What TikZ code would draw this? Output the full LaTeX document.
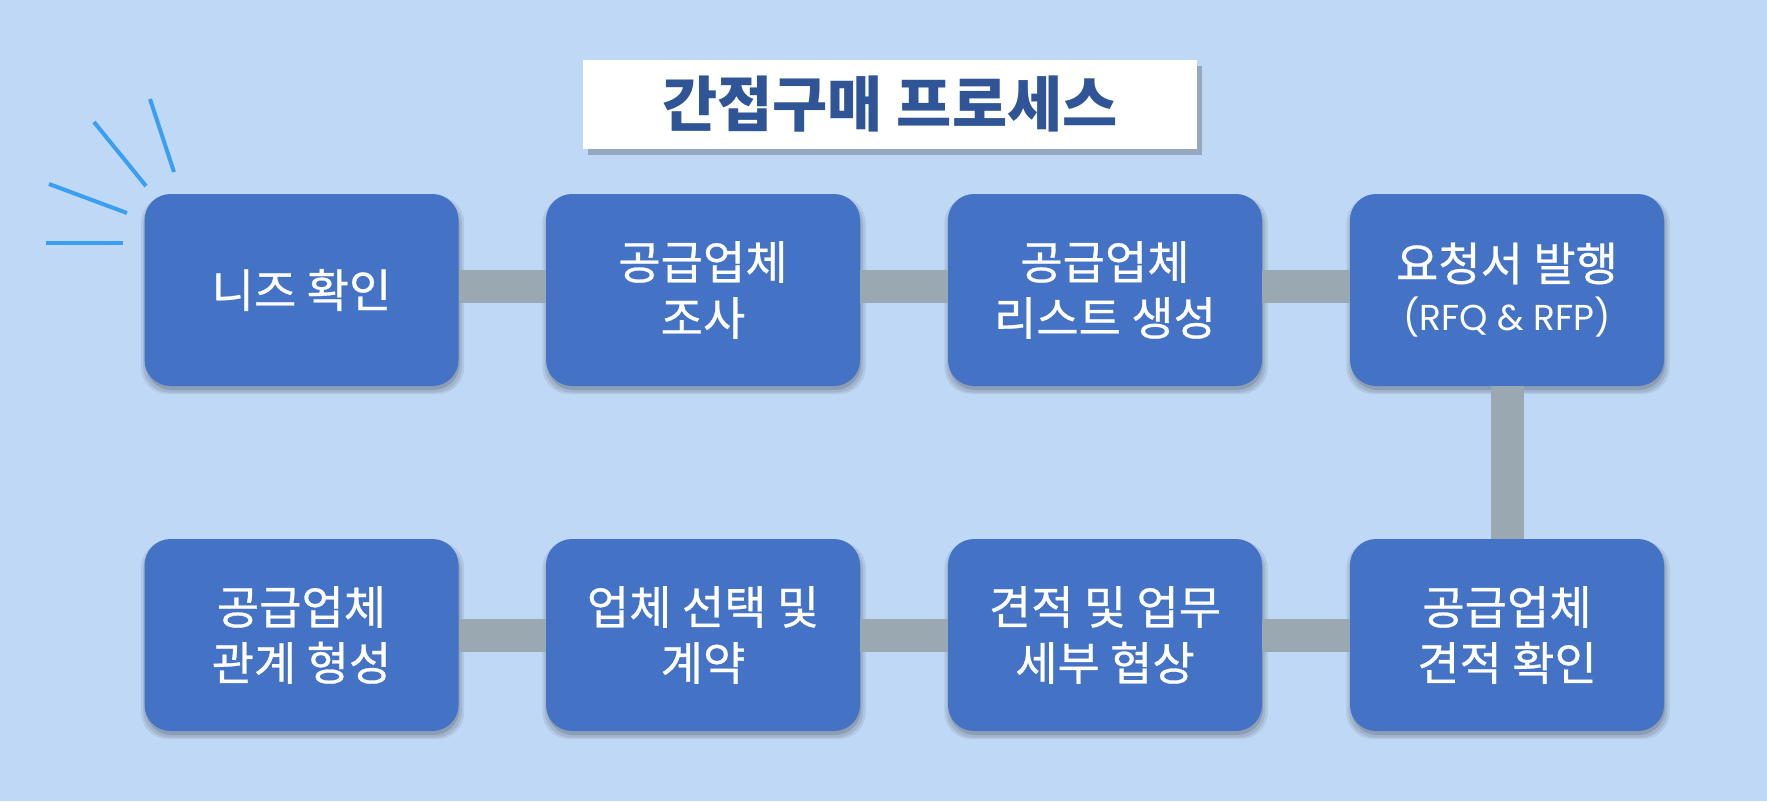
\documentclass[tikz,border=0pt]{standalone}
\usepackage{fontspec}
\newfontfamily\kr{Noto Sans CJK KR}[FakeBold=0.6]
\newfontfamily\krt{Noto Sans CJK KR}
\newfontfamily\lat{Poppins}
\usetikzlibrary{shadows}
\definecolor{bgc}{HTML}{BFD8F5}
\definecolor{boxc}{HTML}{4472C4}
\definecolor{linkc}{HTML}{9AA8B2}
\definecolor{titlec}{HTML}{2F5597}
\definecolor{burstc}{HTML}{3A9EF2}
\tikzset{
  softshadow/.style={
    drop shadow={shadow xshift=1pt, shadow yshift=-5pt, shadow scale=1.03, opacity=0.07, fill=black},
    drop shadow={shadow xshift=1pt, shadow yshift=-5pt, shadow scale=1.015, opacity=0.09, fill=black},
    drop shadow={shadow xshift=1pt, shadow yshift=-4pt, opacity=0.12, fill=black}},
  stepbox/.style={rounded corners=26pt, fill=boxc, minimum width=314pt, minimum height=192pt,
    text=white, align=center, inner sep=0pt,
    font=\kr\fontsize{46}{56}\selectfont, softshadow},
  titlebox/.style={fill=white, minimum width=614pt, minimum height=89pt, inner sep=0pt,
    text=titlec, font=\krt\bfseries\fontsize{60}{66}\selectfont,
    drop shadow={shadow xshift=5pt, shadow yshift=-6pt, opacity=0.22, fill=black}},
  link/.style={draw=linkc, line width=33pt},
  burst/.style={draw=burstc, line width=4pt}
}
\begin{document}
\begin{tikzpicture}[x=1pt,y=-1pt]
\useasboundingbox (0,0) rectangle (1767,801);
\fill[bgc] (0,0) rectangle (1767,801);
\node[titlebox] (title) at (890,104.5) {간접구매 프로세스};
\node[stepbox] (n1) at (301.5,290) {니즈 확인};
\node[stepbox] (n2) at (703,290) {공급업체\\조사};
\node[stepbox] (n3) at (1105,290) {공급업체\\리스트 생성};
\node[stepbox] (n4) at (1507,290) {요청서 발행\\[-6pt]{\lat\fontsize{36}{42}\selectfont (RFQ \& RFP)}};
\node[stepbox] (n8) at (1507,635) {공급업체\\견적 확인};
\node[stepbox] (n7) at (1105,635) {견적 및 업무\\세부 협상};
\node[stepbox] (n6) at (703,635) {업체 선택 및\\계약};
\node[stepbox] (n5) at (301.5,635) {공급업체\\관계 형성};
\draw[link] ([yshift=4pt]n1.east) -- ([yshift=4pt]n2.west);
\draw[link] ([yshift=4pt]n2.east) -- ([yshift=4pt]n3.west);
\draw[link] ([yshift=4pt]n3.east) -- ([yshift=4pt]n4.west);
\draw[link] (n4.south) -- (n8.north);
\draw[link] (n8.west) -- (n7.east);
\draw[link] (n7.west) -- (n6.east);
\draw[link] (n6.west) -- (n5.east);
\draw[burst] (150,99) -- (174,172);
\draw[burst] (94,122) -- (146,186);
\draw[burst] (49,184) -- (127,213);
\draw[burst] (46,243) -- (123,243);
\end{tikzpicture}
\end{document}
